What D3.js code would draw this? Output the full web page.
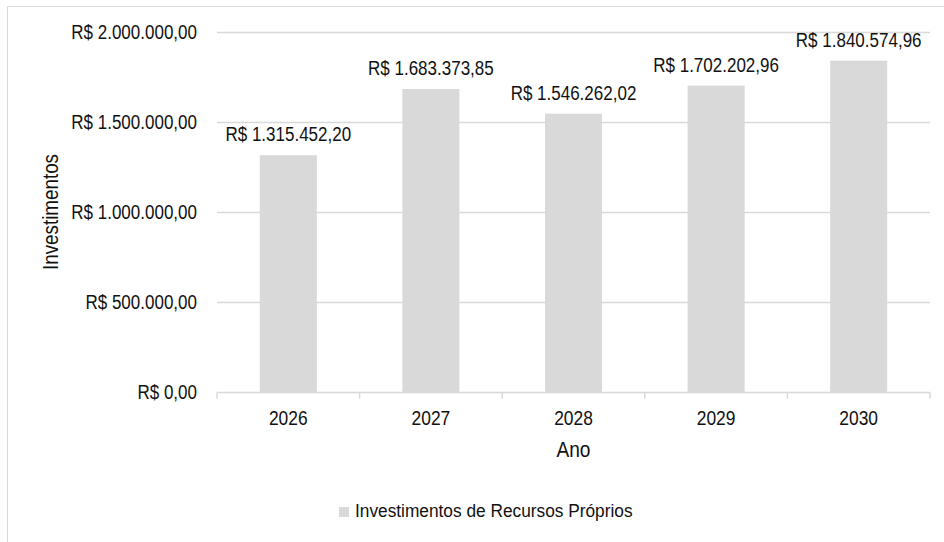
<!DOCTYPE html>
<html>
<head>
<meta charset="utf-8">
<script src="https://cdn.jsdelivr.net/npm/d3@7"></script>
<style>
  body { margin: 0; background: #fff; }
  svg text { font-family: "Liberation Sans", Arial, sans-serif; fill: #111; }
</style>
</head>
<body>
<svg></svg>
<script>
//	chart data
var years = ["2026", "2027", "2028", "2029", "2030"];
var investimentos = [1315452.20, 1683373.85, 1546262.02, 1702202.96, 1840574.96];
var yTicks = [0, 500000, 1000000, 1500000, 2000000];
var seriesName = "Investimentos de Recursos Próprios";

var width = 944, height = 542;
var margin = {left: 217, right: 14, top: 32, bottom: 150};

var svg = d3.select("svg").attr("width", width).attr("height", height);

//	outer chart border
svg.append("rect")
    .attr("x", 7.5).attr("y", 6.5)
    .attr("width", width + 20).attr("height", height + 20)
    .attr("fill", "none").attr("stroke", "#d9d9d9");

//	brazilian currency format
var fmt = function(v) {
    var s = v.toFixed(2).split(".");
    var intPart = s[0].replace(/\B(?=(\d{3})+(?!\d))/g, ".");
    return "R$ " + intPart + "," + s[1];
};

//	narrow the glyphs a bit (reference font is a condensed helvetica)
function condense(sel, k) {
    sel.each(function() {
        var len = this.getComputedTextLength();
        d3.select(this).attr("textLength", len * k).attr("lengthAdjust", "spacingAndGlyphs");
    });
}

var x = d3.scaleBand()
    .domain(years)
    .range([margin.left, width - margin.right])
    .paddingInner(0.6).paddingOuter(0.3);

var y = d3.scaleLinear()
    .domain([0, 2000000])
    .range([height - margin.bottom, margin.top]);

//	gridlines
svg.append("g").selectAll("line")
    .data(yTicks.slice(1))
    .enter().append("line")
    .attr("x1", margin.left).attr("x2", width - margin.right)
    .attr("y1", function(d) { return Math.round(y(d)) + 0.5; })
    .attr("y2", function(d) { return Math.round(y(d)) + 0.5; })
    .attr("stroke", "#d9d9d9").attr("stroke-width", 1.5);

//	y axis labels
var yAxis = svg.append("g")
    .attr("transform", "translate(" + margin.left + ",0)")
    .call(d3.axisLeft(y).tickValues(yTicks).tickFormat(fmt).tickSize(0).tickPadding(20));
yAxis.select(".domain").remove();
yAxis.selectAll("text").style("font-size", "20px").attr("font-family", null).attr("fill", "#111");
yAxis.attr("font-family", null);
condense(yAxis.selectAll("text"), 0.85);

//	bars
svg.append("g").selectAll("rect")
    .data(investimentos)
    .enter().append("rect")
    .attr("x", function(d, i) { return x(years[i]); })
    .attr("width", x.bandwidth())
    .attr("y", function(d) { return y(d); })
    .attr("height", function(d) { return y(0) - y(d); })
    .attr("fill", "#d9d9d9");

//	data labels
var labels = svg.append("g").selectAll("text")
    .data(investimentos)
    .enter().append("text")
    .attr("x", function(d, i) { return x(years[i]) + x.bandwidth() / 2; })
    .attr("y", function(d) { return y(d) - 14; })
    .attr("text-anchor", "middle")
    .style("font-size", "20px")
    .text(fmt);
condense(labels, 0.85);

//	x axis with boundary ticks
var xAxisG = svg.append("g").attr("transform", "translate(0," + (y(0) + 0.5) + ")");
xAxisG.append("line")
    .attr("x1", margin.left).attr("x2", width - margin.right)
    .attr("stroke", "#d9d9d9").attr("stroke-width", 1.5);
var step = x.step();
var bounds = d3.range(years.length + 1).map(function(i) { return margin.left + i * step; });
xAxisG.selectAll(".tk")
    .data(bounds)
    .enter().append("line")
    .attr("x1", function(d) { return d; }).attr("x2", function(d) { return d; })
    .attr("y1", 0).attr("y2", 6)
    .attr("stroke", "#d9d9d9").attr("stroke-width", 1.5);
var xLabels = xAxisG.selectAll(".lbl")
    .data(years)
    .enter().append("text")
    .attr("x", function(d) { return x(d) + x.bandwidth() / 2; })
    .attr("y", 32.5)
    .attr("text-anchor", "middle")
    .style("font-size", "20px")
    .text(function(d) { return d; });
condense(xLabels, 0.87);

//	axis titles
var xTitle = svg.append("text")
    .attr("x", (margin.left + width - margin.right) / 2)
    .attr("y", 457)
    .attr("text-anchor", "middle")
    .style("font-size", "22px")
    .text("Ano");
condense(xTitle, 0.87);

var yTitle = svg.append("text")
    .attr("transform", "translate(58," + y(1000000) + ") rotate(-90)")
    .attr("text-anchor", "middle")
    .style("font-size", "22px")
    .text("Investimentos");
condense(yTitle, 0.855);

//	legend
var legend = svg.append("g").attr("transform", "translate(339,507)");
legend.append("rect")
    .attr("x", 0).attr("y", 0)
    .attr("width", 10).attr("height", 10)
    .attr("fill", "#d9d9d9");
var legText = legend.append("text")
    .attr("x", 16).attr("y", 10)
    .style("font-size", "18px")
    .text(seriesName);
condense(legText, 0.96);
</script>
</body>
</html>
